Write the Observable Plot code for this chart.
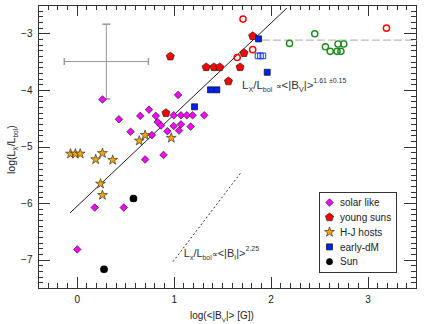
<!DOCTYPE html>
<html><head><meta charset="utf-8">
<script src="https://cdn.jsdelivr.net/npm/d3@7"></script>
<script src="https://cdn.jsdelivr.net/npm/@observablehq/plot@0.6"></script>
<style>body{margin:0;background:#fff}#chart{width:436px;height:324px}</style>
</head><body><div id="chart"></div>
<script>
// ---- data ----
const solarX = [0.00,0.18,0.48,0.70,0.89,0.26,0.43,0.55,0.65,0.74,0.81,0.83,0.865,0.77,0.93,0.995,1.04,1.07,1.07,0.995,1.05,1.13,1.19,1.17,1.31];
const solarY = [-6.81,-6.07,-6.07,-5.22,-5.14,-4.16,-4.51,-4.73,-4.45,-4.34,-4.45,-4.56,-4.62,-4.79,-4.72,-4.44,-4.08,-4.44,-4.60,-4.63,-4.71,-4.44,-4.44,-4.64,-4.44];
const youngX = [0.96,0.915,1.33,1.41,1.47,1.56,1.68,1.72,1.81];
const youngY = [-3.40,-4.40,-3.59,-3.59,-3.59,-3.84,-3.59,-3.34,-3.04];
const hjX = [-0.07,-0.02,0.03,0.26,0.19,0.365,0.64,0.70,0.97,0.24,0.26];
const hjY = [-5.12,-5.12,-5.12,-5.11,-5.22,-5.23,-4.89,-4.79,-4.84,-5.65,-5.85];
const dmX = [1.21,1.375,1.44,1.87,1.96];
const dmY = [-4.29,-3.99,-3.99,-3.09,-3.68];
const dmOpenX = [1.865,1.89,1.915];
const dmOpenY = [-3.39,-3.39,-3.39];
const sunX = [0.58,0.276];
const sunY = [-5.91,-7.16];
const redOpenX = [1.71,1.81,1.65,3.19];
const redOpenY = [-2.74,-3.28,-3.42,-2.90];
const greenX = [2.19,2.45,2.56,2.61,2.68,2.69,2.72,2.75];
const greenY = [-3.17,-3.00,-3.23,-3.31,-3.31,-3.18,-3.31,-3.18];
const fitX = [-0.072, 2.16];
const fitY = [-6.16, -2.55];
const dotLineX = [0.99, 1.685];
const dotLineY = [-7.02, -5.46];
const limitX = [1.91, 3.5];
const limitY = [-3.11, -3.11];
const errBar = [{x: 0.30, y: -3.49, xerr: 0.434, yerr: 0.66}];
const legendLabels = ["solar like","young suns","H-J hosts","early-dM","Sun"];
const xMajorTicks = [0,1,2,3];
const yMajorTicks = [-7,-6,-5,-4,-3];
const xMinorTicks = d3.range(-3, 35).map(d => d/10).filter(d => Math.abs(d - Math.round(d)) > 1e-6);
const yMinorTicks = d3.range(-74, -24).map(d => d/10).filter(d => Math.abs(d - Math.round(d)) > 1e-6);

const pts = (X, Y) => X.map((x, i) => ({x, y: Y[i]}));

// ---- custom symbols ----
const pentagon = {draw(c, size) {
  const R = Math.sqrt(size / Math.PI) * 1.25;
  for (let i = 0; i < 5; i++) {
    const a = -Math.PI/2 + i * 2*Math.PI/5;
    const px = R*Math.cos(a), py = R*Math.sin(a);
    i ? c.lineTo(px, py) : c.moveTo(px, py);
  }
  c.closePath();
}};
const hCap = w => ({draw(c){ c.moveTo(-w/2,0); c.lineTo(w/2,0); }});
const vCap = h => ({draw(c){ c.moveTo(0,-h/2); c.lineTo(0,h/2); }});

const axisCol = "#333";
const S = {
  solar: {symbol: "diamond2", fill: "#ff00ff", stroke: "#222", r: 3.4},
  young: {symbol: pentagon, fill: "#ff0000", stroke: "#222", r: 3.4},
  hj: {symbol: "star", fill: "#ffa500", stroke: "#333", r: 3.1},
  dm: {symbol: "square", fill: "#0022ee", stroke: "#111", r: 3.4},
  sun: {symbol: "circle", fill: "#000", stroke: "#000", r: 3.1}
};
const sw = 0.7;
const fmt = d3.format("d");

const plot = Plot.plot({
  width: 436, height: 324,
  marginLeft: 38, marginRight: 20, marginTop: 5, marginBottom: 36,
  x: {domain: [-0.4, 3.5]},
  y: {domain: [-7.5, -2.5]},
  style: {fontFamily: "'Liberation Sans', Arial, sans-serif", fontSize: "10px", color: "#222", background: "#fff"},
  marks: [
    Plot.frame({stroke: axisCol, strokeWidth: 1}),
    Plot.axisX({ticks: xMajorTicks, tickSize: 0, tickPadding: 7, label: null, fontSize: 10, tickFormat: fmt}),
    Plot.axisY({ticks: yMajorTicks, tickSize: 0, tickPadding: 6, label: null, fontSize: 10, tickFormat: fmt}),
    // error bar
    Plot.link(errBar, {x1: d => d.x - d.xerr, x2: d => d.x + d.xerr, y1: "y", y2: "y", stroke: "#999", strokeWidth: 1}),
    Plot.link(errBar, {x1: "x", x2: "x", y1: d => d.y - d.yerr, y2: d => d.y + d.yerr, stroke: "#999", strokeWidth: 1}),
    Plot.dot(errBar, {x: "x", y: d => d.y + d.yerr, symbol: hCap(8), fill: "none", stroke: "#999", r: 1}),
    Plot.dot(errBar, {x: "x", y: d => d.y - d.yerr, symbol: hCap(8), fill: "none", stroke: "#999", r: 1}),
    Plot.dot(errBar, {x: d => d.x - d.xerr, y: "y", symbol: vCap(7), fill: "none", stroke: "#999", r: 1}),
    Plot.dot(errBar, {x: d => d.x + d.xerr, y: "y", symbol: vCap(7), fill: "none", stroke: "#999", r: 1}),
    // lines
    Plot.line(pts(limitX, limitY), {x: "x", y: "y", stroke: "#bbb", strokeWidth: 1.3, strokeDasharray: "7,4"}),
    Plot.line(pts(fitX, fitY), {x: "x", y: "y", stroke: "#222", strokeWidth: 1}),
    Plot.line(pts(dotLineX, dotLineY), {x: "x", y: "y", stroke: "#222", strokeWidth: 1, strokeDasharray: "1,3.2"}),
    // points
    Plot.dot(pts(solarX, solarY), {x: "x", y: "y", ...S.solar, strokeWidth: sw}),
    Plot.dot(pts(hjX, hjY), {x: "x", y: "y", ...S.hj, strokeWidth: sw}),
    Plot.dot(pts(youngX, youngY), {x: "x", y: "y", ...S.young, strokeWidth: sw}),
    Plot.dot(pts(dmX, dmY), {x: "x", y: "y", ...S.dm, strokeWidth: sw}),
    Plot.dot(pts(dmOpenX, dmOpenY), {x: "x", y: "y", symbol: "square", fill: "none", stroke: "#1a3cf0", strokeWidth: 1, r: 3.2}),
    Plot.dot(pts(sunX, sunY), {x: "x", y: "y", ...S.sun}),
    Plot.dot(pts(redOpenX, redOpenY), {x: "x", y: "y", symbol: "circle", fill: "none", stroke: "#ff0000", strokeWidth: 1.4, r: 3.1}),
    Plot.dot(pts(greenX, greenY), {x: "x", y: "y", symbol: "circle", fill: "none", stroke: "#1a8c1a", strokeWidth: 1.4, r: 3.1})
  ]
});
document.getElementById("chart").appendChild(plot);

const svg = d3.select(plot);
const sx = plot.scale("x"), sy = plot.scale("y");
const [X0, X1] = sx.range, [Y0, Y1] = sy.range; // Y0 bottom, Y1 top

// ---- inward ticks on all four sides (positions through Plot's scales) ----
const tg = svg.append("g").attr("stroke", axisCol).attr("stroke-width", 1);
for (const [vals, len] of [[xMajorTicks, 11], [xMinorTicks, 5]]) {
  for (const v of vals) {
    const px = Math.round(sx.apply(v)) + 0.5;
    tg.append("line").attr("x1", px).attr("x2", px).attr("y1", Y0).attr("y2", Y0 - len);
    tg.append("line").attr("x1", px).attr("x2", px).attr("y1", Y1).attr("y2", Y1 + len);
  }
}
for (const [vals, len] of [[yMajorTicks, 12], [yMinorTicks, 5]]) {
  for (const v of vals) {
    const py = Math.round(sy.apply(v)) + 0.5;
    tg.append("line").attr("y1", py).attr("y2", py).attr("x1", X0).attr("x2", X0 + len);
    tg.append("line").attr("y1", py).attr("y2", py).attr("x1", X1).attr("x2", X1 - len);
  }
}

// ---- rich text (sub/superscripts) ----
function rich(sel, parts, size) {
  let cur = 0;
  for (const p of parts) {
    const off = p.s === "sub" ? size*0.28 : p.s === "sup" ? -size*0.55 : 0;
    const fs = p.fs || (p.s ? size*0.62 : size);
    sel.append("tspan").attr("dy", off - cur).attr("font-size", fs).text(p.t);
    cur = off;
  }
}
const font = "'Liberation Sans', Arial, sans-serif";
const ann1 = svg.append("text").attr("x", sx.apply(1.705)).attr("y", sy.apply(-3.985))
  .attr("text-anchor", "start").attr("fill", "#333").attr("font-family", font);
rich(ann1, [{t:"L"},{t:"X",s:"sub"},{t:"/L"},{t:"bol",s:"sub"},{t:" "},{t:"∝",fs:8},{t:"<|B"},{t:"V",s:"sub"},{t:"|>"},{t:"1.61 ±0.15",s:"sup",fs:7}], 11.5);
const ann2 = svg.append("text").attr("x", sx.apply(1.105)).attr("y", sy.apply(-6.955))
  .attr("text-anchor", "start").attr("fill", "#333").attr("font-family", font);
rich(ann2, [{t:"L"},{t:"x",s:"sub"},{t:"/L"},{t:"bol",s:"sub"},{t:"∝",fs:8},{t:"<|B"},{t:"I",s:"sub"},{t:"|>"},{t:"2.25",s:"sup",fs:7}], 11);

// axis labels
const xl = svg.append("text").attr("x", 190).attr("y", 319).attr("text-anchor", "start")
  .attr("fill", "#222").attr("font-family", font);
rich(xl, [{t:"log(<|B"},{t:"V",s:"sub"},{t:"|> [G])"}], 10);
const yl = svg.append("text").attr("transform", "translate(15,174) rotate(-90)").attr("text-anchor", "start")
  .attr("fill", "#222").attr("font-family", font);
rich(yl, [{t:"log(L"},{t:"X",s:"sub"},{t:"/L"},{t:"bol",s:"sub"},{t:")"}], 10.5);

// legend
const lg = svg.append("g").attr("font-family", font).attr("font-size", 10).attr("fill", "#222").attr("text-anchor", "start");
lg.append("rect").attr("x", 319.5).attr("y", 192.5).attr("width", 77).attr("height", 80)
  .attr("fill", "#fff").attr("stroke", "#333").attr("stroke-width", 1);
const symMap = {diamond2: d3.symbolDiamond2, star: d3.symbolStar, square: d3.symbolSquare, circle: d3.symbolCircle};
[S.solar, S.young, S.hj, S.dm, S.sun].forEach((s, i) => {
  const cy = 202.5 + i * 14.8;
  const type = typeof s.symbol === "string" ? symMap[s.symbol] : s.symbol;
  lg.append("path").attr("transform", `translate(329.5,${cy})`)
    .attr("d", d3.symbol(type, Math.PI * s.r * s.r)())
    .attr("fill", s.fill).attr("stroke", s.stroke).attr("stroke-width", sw);
  lg.append("text").attr("x", 340).attr("y", cy + 3.6).text(legendLabels[i]);
});
</script>
</body></html>
